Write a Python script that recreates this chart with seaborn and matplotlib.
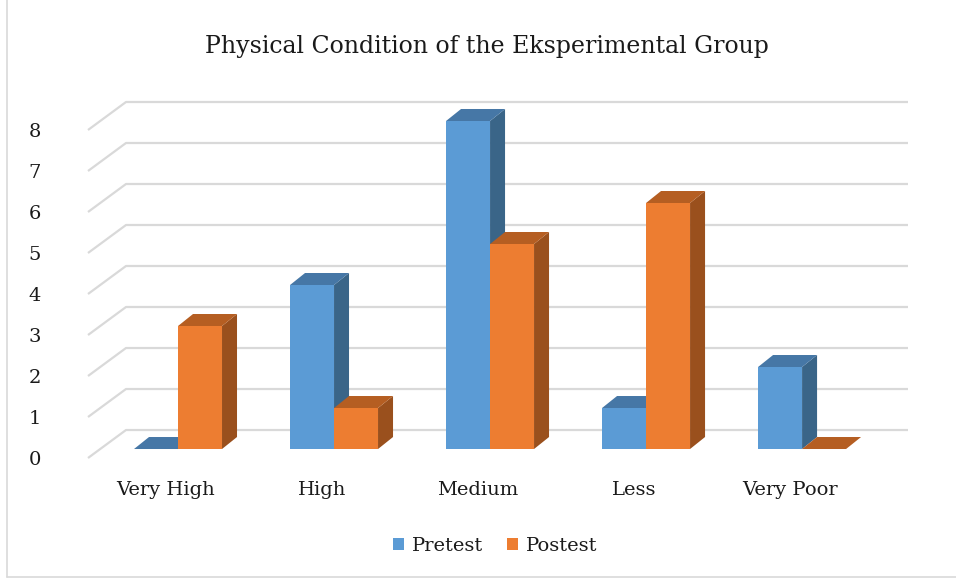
import numpy as np
import pandas as pd
import seaborn as sns
import matplotlib.pyplot as plt
from matplotlib.patches import Polygon, Patch
from matplotlib.lines import Line2D
from matplotlib.transforms import ScaledTranslation

categories = ["Very High", "High", "Medium", "Less", "Very Poor"]
pretest = [0, 4, 8, 1, 2]
postest = [3, 1, 5, 6, 0]
y_ticks = [0, 1, 2, 3, 4, 5, 6, 7, 8]

df = pd.DataFrame({
    "category": categories * 2,
    "value": pretest + postest,
    "test": ["Pretest"] * len(categories) + ["Postest"] * len(categories),
})

front = {"Pretest": "#5B9BD5", "Postest": "#ED7D31"}
top_c = {"Pretest": "#4677A6", "Postest": "#B55E22"}
side_c = {"Pretest": "#3A6588", "Postest": "#9A501D"}

sns.set_style("white")
plt.rcParams["font.family"] = ["DejaVu Serif"]

W, H = 956, 579
fig = plt.figure(figsize=(W / 100, H / 100), dpi=100)
ax = fig.add_axes([88 / W, 1 - 460 / H, (908 - 88) / W, (460 - 90) / H])

sns.barplot(data=df, x="category", y="value", hue="test", order=categories,
            hue_order=["Pretest", "Postest"], palette=front, width=0.564,
            gap=0, legend=False, ax=ax, saturation=1, linewidth=0)

ax.set_xlim(-0.577, 4.679)
ax.set_ylim(-0.268, 8.756)
for s in ax.spines.values():
    s.set_visible(False)

# pixel -> data scale
ux = (ax.get_xlim()[1] - ax.get_xlim()[0]) / (908 - 88)
uy = (ax.get_ylim()[1] - ax.get_ylim()[0]) / (460 - 90)

# 3d-ish grid: slanted floor edge + back wall lines
x0 = ax.get_xlim()[0]
x1 = ax.get_xlim()[1]
grid_col = "#D9D9D9"
for k in y_ticks:
    yf = k - 9 * uy
    yb = k + 19 * uy
    ax.plot([x0, x0 + 38 * ux, x1], [yf, yb, yb], color=grid_col, lw=1.6,
            zorder=0, clip_on=False, solid_capstyle="butt")

# depth faces for bars
ddx, ddy = 15 * ux, 12 * uy
for j, (name, cont) in enumerate(zip(["Pretest", "Postest"], ax.containers)):
    for bar in cont:
        x = bar.get_x()
        w = bar.get_width()
        h = bar.get_height()
        bar.set_zorder(2.5 + j)
        side = Polygon([(x + w, 0), (x + w + ddx, ddy), (x + w + ddx, h + ddy), (x + w, h)],
                       closed=True, fc=side_c[name], ec="none", zorder=2 + j, clip_on=False)
        top = Polygon([(x, h), (x + ddx, h + ddy), (x + w + ddx, h + ddy), (x + w, h)],
                      closed=True, fc=top_c[name], ec="none", zorder=2.2 + j, clip_on=False)
        ax.add_patch(side)
        ax.add_patch(top)

ax.set_xlabel("")
ax.set_ylabel("")
ax.set_yticks(y_ticks)
ax.set_yticklabels([str(v) for v in y_ticks], fontsize=14, color="#1a1a1a")
ax.tick_params(axis="y", length=0, pad=34)
ax.tick_params(axis="x", length=0, pad=15, labelsize=14, labelcolor="#1a1a1a")
for lab in ax.get_yticklabels():
    lab.set_transform(lab.get_transform() + ScaledTranslation(0, -9 / 100, fig.dpi_scale_trans))
for lab in ax.get_xticklabels():
    lab.set_transform(lab.get_transform() + ScaledTranslation(-12 / 100, 0, fig.dpi_scale_trans))

fig.text(487 / W, 1 - 46 / H, "Physical Condition of the Eksperimental Group",
         ha="center", va="center", fontsize=17, color="#1a1a1a")

handles = [Patch(fc=front["Pretest"], ec="none", label="Pretest"),
           Patch(fc=front["Postest"], ec="none", label="Postest")]
fig.legend(handles=handles, loc="center", bbox_to_anchor=(495 / W, 1 - 546 / H), ncol=2,
           frameon=False, fontsize=14, handlelength=0.6, handleheight=0.6,
           handletextpad=0.4, columnspacing=1.2, labelcolor="#1a1a1a")

# chart border
fig.add_artist(Line2D([7 / W, 7 / W], [2 / H, 1], color="#D9D9D9", lw=1.2))
fig.add_artist(Line2D([7 / W, 1], [2 / H, 2 / H], color="#D9D9D9", lw=1.2))

fig.savefig("out.png", dpi=100)
